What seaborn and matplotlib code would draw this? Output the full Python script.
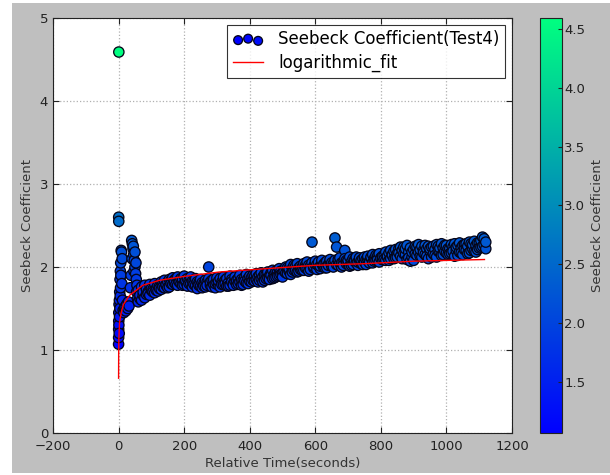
import numpy as np
import pandas as pd
import matplotlib
matplotlib.use("Agg")
import matplotlib.pyplot as plt
from matplotlib.patches import Rectangle
import seaborn as sns

# ---- data ----
start_time = [0.1, 0.2, 0.3, 0.4, 0.5, 0.6, 0.7, 0.8, 1.0, 1.5, 2.0, 2.5, 3.0, 3.5,
              4.0, 4.5, 5.0, 5.5, 6.0, 6.5, 7.0, 8.0, 9.0, 10.0, 11.0, 12.0, 14.0,
              16.0, 18.0, 20.0, 22.0, 25.0, 28.0, 30.0, 32.0]
start_value = [1.07, 1.15, 1.25, 2.60, 1.35, 2.55, 1.45, 4.59, 1.30, 1.55, 1.20, 1.60,
               1.40, 1.70, 1.50, 1.85, 1.65, 1.95, 1.75, 2.05, 1.90, 2.20, 2.18, 1.80,
               2.10, 1.60, 1.48, 1.45, 1.50, 1.52, 1.47, 1.55, 1.50, 1.58, 1.53]

spike_time = [36, 38, 40, 41, 42, 44, 45, 46, 47, 48, 50, 50, 52, 53, 54, 55, 56, 58]
spike_value = [1.75, 1.90, 2.32, 2.10, 2.28, 2.22, 2.25, 2.15, 1.95, 2.08, 2.00, 2.18,
               1.92, 2.05, 1.85, 1.70, 1.78, 1.62]

main_time = [
    60, 65, 70, 75, 80, 85, 90, 95, 100, 105,
    110, 115, 120, 125, 130, 135, 140, 145, 150, 155,
    160, 165, 170, 175, 180, 185, 190, 195, 200, 205,
    210, 215, 220, 225, 230, 235, 240, 245, 250, 255,
    260, 265, 270, 275, 280, 285, 290, 295, 300, 305,
    310, 315, 320, 325, 330, 335, 340, 345, 350, 355,
    360, 365, 370, 375, 380, 385, 390, 395, 400, 405,
    410, 415, 420, 425, 430, 435, 440, 445, 450, 455,
    460, 465, 470, 475, 480, 485, 490, 495, 500, 505,
    510, 515, 520, 525, 530, 535, 540, 545, 550, 555,
    560, 565, 570, 575, 580, 585, 590, 595, 600, 605,
    610, 615, 620, 625, 630, 635, 640, 645, 650, 655,
    660, 665, 670, 675, 680, 685, 690, 695, 700, 705,
    710, 715, 720, 725, 730, 735, 740, 745, 750, 755,
    760, 765, 770, 775, 780, 785, 790, 795, 800, 805,
    810, 815, 820, 825, 830, 835, 840, 845, 850, 855,
    860, 865, 870, 875, 880, 885, 890, 895, 900, 905,
    910, 915, 920, 925, 930, 935, 940, 945, 950, 955,
    960, 965, 970, 975, 980, 985, 990, 995, 1000, 1005,
    1010, 1015, 1020, 1025, 1030, 1035, 1040, 1045, 1050, 1055,
    1060, 1065, 1070, 1075, 1080, 1085, 1090, 1095, 1100, 1105,
    1110, 1115, 1120]
main_value_a = [
    1.58, 1.62, 1.60, 1.66, 1.63, 1.67, 1.70, 1.66, 1.72, 1.73,
    1.69, 1.74, 1.71, 1.77, 1.73, 1.80, 1.75, 1.78, 1.82, 1.76,
    1.84, 1.79, 1.81, 1.86, 1.78, 1.83, 1.80, 1.85, 1.79, 1.82,
    1.77, 1.84, 1.80, 1.76, 1.83, 1.78, 1.74, 1.81, 1.77, 1.75,
    1.80, 1.76, 1.82, 2.00, 1.78, 1.84, 1.79, 1.75, 1.81, 1.78,
    1.76, 1.82, 1.79, 1.84, 1.77, 1.81, 1.78, 1.85, 1.80, 1.83,
    1.79, 1.86, 1.82, 1.78, 1.84, 1.88, 1.81, 1.86, 1.83, 1.87,
    1.84, 1.89, 1.85, 1.82, 1.90, 1.86, 1.88, 1.84, 1.91, 1.87,
    1.89, 1.93, 1.86, 1.91, 1.88, 1.94, 1.90, 1.95, 1.92, 1.97,
    1.93, 1.99, 1.95, 1.91, 1.98, 1.96, 2.01, 1.94, 1.99, 1.97,
    2.00, 1.96, 2.02, 1.98, 1.95, 2.01, 2.30, 1.99, 2.03, 1.97,
    2.02, 1.98, 2.04, 2.00, 2.05, 1.99, 2.03, 2.06, 2.01, 2.04,
    2.35, 2.24, 2.02, 2.05, 2.00, 2.06, 2.20, 2.08, 2.04, 2.01,
    2.06, 2.03, 2.09, 2.05, 2.02, 2.08, 2.04, 2.10, 2.06, 2.03,
    2.09, 2.07, 2.11, 2.05, 2.10, 2.08, 2.13, 2.06, 2.11, 2.09,
    2.14, 2.08, 2.12, 2.17, 2.10, 2.15, 2.19, 2.11, 2.16, 2.22,
    2.13, 2.20, 2.24, 2.15, 2.09, 2.18, 2.07, 2.12, 2.21, 2.16,
    2.24, 2.18, 2.13, 2.25, 2.20, 2.15, 2.22, 2.10, 2.19, 2.24,
    2.16, 2.21, 2.12, 2.25, 2.18, 2.14, 2.23, 2.19, 2.26, 2.15,
    2.22, 2.17, 2.24, 2.13, 2.20, 2.26, 2.18, 2.23, 2.15, 2.27,
    2.20, 2.25, 2.17, 2.28, 2.22, 2.19, 2.26, 2.21, 2.29, 2.24,
    2.36, 2.27, 2.22]
main_value_b = [
    1.72, 1.66, 1.76, 1.70, 1.78, 1.73, 1.68, 1.79, 1.74, 1.70,
    1.80, 1.72, 1.78, 1.74, 1.82, 1.76, 1.84, 1.79, 1.75, 1.85,
    1.80, 1.87, 1.84, 1.79, 1.88, 1.82, 1.86, 1.78, 1.89, 1.84,
    1.86, 1.80, 1.88, 1.83, 1.79, 1.86, 1.82, 1.78, 1.85, 1.81,
    1.77, 1.84, 1.78, 1.86, 1.82, 1.76, 1.85, 1.80, 1.87, 1.83,
    1.86, 1.79, 1.88, 1.80, 1.86, 1.77, 1.89, 1.82, 1.78, 1.88,
    1.84, 1.80, 1.90, 1.85, 1.79, 1.83, 1.91, 1.80, 1.89, 1.82,
    1.90, 1.83, 1.92, 1.88, 1.84, 1.93, 1.82, 1.91, 1.86, 1.94,
    1.85, 1.90, 1.96, 1.87, 1.95, 1.89, 1.98, 1.91, 1.88, 1.95,
    2.00, 1.92, 1.98, 2.03, 1.94, 2.02, 1.96, 2.04, 1.95, 2.01,
    1.96, 2.04, 1.99, 2.06, 2.02, 1.97, 2.05, 2.01, 2.07, 2.03,
    2.06, 2.01, 2.08, 2.03, 1.99, 2.07, 2.02, 2.09, 2.05, 2.00,
    2.08, 2.03, 2.09, 2.11, 2.05, 2.02, 2.10, 2.04, 2.08, 2.12,
    2.02, 2.10, 2.07, 2.12, 2.06, 2.11, 2.08, 2.03, 2.12, 2.09,
    2.13, 2.05, 2.12, 2.15, 2.07, 2.14, 2.09, 2.16, 2.10, 2.13,
    2.09, 2.18, 2.13, 2.08, 2.20, 2.14, 2.10, 2.21, 2.12, 2.17,
    2.24, 2.10, 2.16, 2.22, 2.26, 2.11, 2.23, 2.18, 2.08, 2.25,
    2.14, 2.27, 2.21, 2.12, 2.17, 2.26, 2.13, 2.25, 2.22, 2.12,
    2.25, 2.14, 2.27, 2.19, 2.23, 2.28, 2.15, 2.26, 2.17, 2.22,
    2.16, 2.27, 2.19, 2.28, 2.24, 2.14, 2.29, 2.17, 2.26, 2.21,
    2.28, 2.16, 2.30, 2.20, 2.27, 2.31, 2.18, 2.29, 2.23, 2.32,
    2.25, 2.34, 2.30]

# logarithmic fit curve
fit_time = [0.05, 0.3, 1, 3, 8, 15, 34, 74, 125, 206, 308, 450, 598, 750, 900, 1116]
fit_value = [0.66, 0.95, 1.15, 1.33, 1.45, 1.55, 1.66, 1.78, 1.84, 1.89, 1.94,
             1.98, 2.02, 2.04, 2.07, 2.09]

x_ticks = [-200, 0, 200, 400, 600, 800, 1000, 1200]
y_ticks = [0, 1, 2, 3, 4, 5]
cbar_ticks = [1.5, 2.0, 2.5, 3.0, 3.5, 4.0, 4.5]

# ---- assemble ----
df = pd.DataFrame({
    "time": start_time + spike_time + main_time + main_time,
    "seebeck": start_value + spike_value + main_value_a + main_value_b,
})
df = df.sort_values("time", kind="stable").reset_index(drop=True)
fit_df = pd.DataFrame({"time": fit_time, "fit": fit_value})

vmin, vmax = df["seebeck"].min(), df["seebeck"].max()

# ---- figure ----
plt.rcParams["font.family"] = ["DejaVu Sans"]
plt.rcParams["font.size"] = 9.5

fig = plt.figure(figsize=(6.1, 4.75), dpi=100, facecolor="white")
fig.patches.append(Rectangle((12 / 610, 2 / 475), 598 / 610, 470 / 475,
                             transform=fig.transFigure, facecolor="#bfbfbf",
                             edgecolor="none", zorder=-10))
ax = fig.add_axes([53 / 610, 42 / 475, 459 / 610, 415 / 475])
cax = fig.add_axes([540 / 610, 42 / 475, 22 / 610, 415 / 475])

sns.scatterplot(x=df["time"], y=df["seebeck"], c=df["seebeck"], cmap="winter",
                vmin=vmin, vmax=vmax, s=55, edgecolor="#050518", linewidth=0.95,
                label="Seebeck Coefficient(Test4)", ax=ax, legend=False)
sns.lineplot(data=fit_df, x="time", y="fit", color="red", linewidth=1.0,
             estimator=None, sort=False, label="logarithmic_fit", ax=ax,
             legend=False)

ax.set_xlim(-200, 1200)
ax.set_ylim(0, 5)
ax.set_xticks(x_ticks)
ax.set_yticks(y_ticks)
ax.set_xlabel("Relative Time(seconds)", fontsize=9.5, color="#333333", labelpad=3)
ax.set_ylabel("Seebeck Coefficient", fontsize=9.5, color="#333333")
ax.grid(True, linestyle=":", color="#b0b0b0", linewidth=0.9)
ax.set_axisbelow(True)
ax.tick_params(direction="in", top=True, right=True, labelsize=9.5,
               colors="#222222", length=4)
ax.tick_params(axis="x", pad=5)
for sp in ax.spines.values():
    sp.set_color("#222222")
ax.set_facecolor("white")

leg = ax.legend(loc="upper right", fontsize=12, frameon=True, fancybox=False,
                scatterpoints=3, scatteryoffsets=[0.375, 0.5, 0.3125],
                borderaxespad=0.4, handlelength=1.8, handletextpad=0.9,
                labelspacing=0.3, borderpad=0.35)
leg.get_frame().set_edgecolor("black")
leg.get_frame().set_linewidth(0.8)
for h in leg.legend_handles[:1]:
    h.set_sizes([40])

sm = ax.collections[0]
cb = fig.colorbar(sm, cax=cax, ticks=cbar_ticks)
cb.set_label("Seebeck Coefficient", fontsize=9.5, color="#333333")
cb.ax.tick_params(labelsize=9.5, direction="in", length=3, colors="#222222", pad=1.5)
cb.outline.set_edgecolor("#222222")

fig.savefig("out.png", dpi=100, facecolor=fig.get_facecolor())
